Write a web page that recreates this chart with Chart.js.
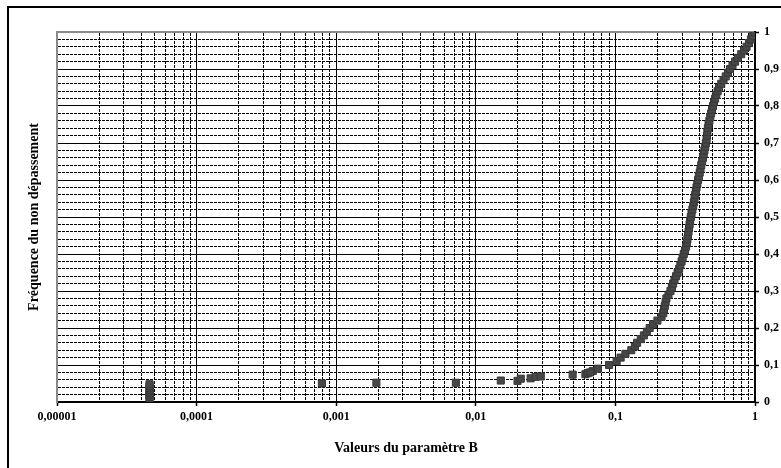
<!DOCTYPE html>
<html><head><meta charset="utf-8">
<script src="https://cdn.jsdelivr.net/npm/chart.js@4"></script>
<style>html,body{margin:0;padding:0;background:#fff}canvas{display:block}</style>
</head><body>
<canvas id="c" width="781" height="468" style="width:781px;height:468px"></canvas>
<script>
// ---- Data ----
// Values of parameter B (x, log scale)
const paramB = [
  0.000046,0.000046,0.000046,0.000046,0.000046,0.000046,0.000046,0.000046,0.000046,
  0.00079,0.00194,0.0072,0.0151,0.0199,0.0210,0.0247,0.0268,0.0292,0.0494,0.0610,0.0634,0.0689,
  0.066,0.075,0.090,0.102,0.109,0.118,0.130,0.138,0.143,0.152,
  0.160,0.168,0.176,0.186,0.200,0.214,0.220,0.223,0.226,0.229,
  0.232,0.240,0.248,0.254,0.259,0.265,0.272,0.279,0.286,0.292,
  0.298,0.303,0.309,0.315,0.321,0.325,0.328,0.331,0.334,0.337,
  0.340,0.343,0.347,0.351,0.356,0.361,0.365,0.369,0.373,0.377,
  0.381,0.386,0.391,0.396,0.402,0.407,0.412,0.418,0.424,0.429,
  0.434,0.440,0.445,0.450,0.453,0.456,0.460,0.465,0.471,0.478,
  0.485,0.492,0.500,0.508,0.518,0.528,0.540,0.553,0.573,0.595,
  0.617,0.640,0.663,0.690,0.720,0.755,0.797,0.835,0.870,0.905,
  0.935,0.965,0.995
];
// Non-exceedance frequency (y)
const freq = [
  0.008,0.013,0.018,0.023,0.028,0.033,0.038,0.043,0.048,
  0.050,0.052,0.052,0.058,0.057,0.063,0.064,0.068,0.069,0.074,0.075,0.078,0.084,
  0.08,0.09,0.10,0.11,0.12,0.13,0.14,0.15,0.16,0.17,
  0.18,0.19,0.20,0.21,0.22,0.23,0.24,0.25,0.26,0.27,
  0.28,0.29,0.30,0.31,0.32,0.33,0.34,0.35,0.36,0.37,
  0.38,0.39,0.40,0.41,0.42,0.43,0.44,0.45,0.46,0.47,
  0.48,0.49,0.50,0.51,0.52,0.53,0.54,0.55,0.56,0.57,
  0.58,0.59,0.60,0.61,0.62,0.63,0.64,0.65,0.66,0.67,
  0.68,0.69,0.70,0.71,0.72,0.73,0.74,0.75,0.76,0.77,
  0.78,0.79,0.80,0.81,0.82,0.83,0.84,0.85,0.86,0.87,
  0.88,0.89,0.90,0.91,0.92,0.93,0.94,0.95,0.96,0.97,
  0.98,0.99,1.00
];
// Axis ticks
const xDecades = [0.00001,0.0001,0.001,0.01,0.1,1];
const xTickLabels = ['0,00001','0,0001','0,001','0,01','0,1','1'];
const minorMultipliers = [2,3,4,5,6,7,8,9];
const xTitle = 'Valeurs du paramètre B';
const yTitle = 'Fréquence du non dépassement';

// ---- Chart ----
const points = paramB.map((b, i) => ({x: b, y: freq[i]}));
const xMinor = [];
xDecades.slice(0, -1).forEach(d => minorMultipliers.forEach(m => xMinor.push(d * m)));

const F = 'Liberation Serif, Times New Roman, serif';
const tickFont = {family: F, size: 12, weight: 'bold'};
const titleFont = {family: F, size: 14, weight: 'bold'};
const isMajorY = v => Math.abs(v * 10 - Math.round(v * 10)) < 1e-6;

const framePlugin = {
  id: 'frame',
  beforeDraw(chart) {
    const ctx = chart.ctx;
    ctx.save();
    ctx.fillStyle = '#fff';
    ctx.fillRect(0, 0, chart.width, chart.height);
    ctx.strokeStyle = '#000';
    ctx.lineWidth = 2;
    ctx.beginPath();
    ctx.moveTo(8, chart.height);
    ctx.lineTo(8, 7);
    ctx.lineTo(chart.width, 7);
    ctx.stroke();
    ctx.restore();
  }
};

new Chart(document.getElementById('c'), {
  type: 'scatter',
  data: {
    datasets: [{
      data: points,
      pointStyle: 'rect',
      pointRadius: 5,
      pointHoverRadius: 5,
      backgroundColor: '#474747',
      borderColor: '#383838',
      borderWidth: 1,
      showLine: false
    }]
  },
  options: {
    responsive: false,
    animation: false,
    devicePixelRatio: 1,
    layout: {padding: {top: 32, left: 0, right: 0, bottom: 0}},
    plugins: {legend: {display: false}, tooltip: {enabled: false}},
    scales: {
      x: {
        type: 'logarithmic', position: 'bottom', min: 0.00001, max: 1,
        afterBuildTicks: s => { s.ticks = xDecades.map(v => ({value: v, major: true})); },
        afterFit: s => { s.height = 66; },
        ticks: {autoSkip: false, maxRotation: 0, minRotation: 0, padding: 4, color: '#000', font: tickFont,
                callback: (v, i) => xTickLabels[i]},
        grid: {color: '#000', lineWidth: 1, tickLength: 4, tickColor: '#000', tickWidth: 1.5},
        border: {display: true, color: '#000', width: 2},
        title: {display: true, text: xTitle, color: '#000', font: titleFont, padding: {top: 0, bottom: 11}}
      },
      x2: {
        type: 'logarithmic', position: 'top', min: 0.00001, max: 1,
        afterBuildTicks: s => { s.ticks = xMinor.map(v => ({value: v})); },
        afterFit: s => { s.height = 0; },
        ticks: {display: false, autoSkip: false},
        grid: {color: '#000', lineWidth: 1, drawTicks: false},
        border: {display: true, color: '#8a8a8a', width: 2, dash: [3, 1]}
      },
      y: {
        type: 'linear', position: 'right', min: 0, max: 1,
        afterFit: s => { s.width = 26; },
        ticks: {stepSize: 0.1, padding: 5, color: '#000', font: tickFont,
                callback: v => (v === 0 ? '0' : v === 1 ? '1' : v.toFixed(1).replace('.', ','))},
        grid: {color: '#000', lineWidth: 1, tickLength: 4, tickColor: '#000', tickWidth: 1.5},
        border: {display: true, color: '#000', width: 2}
      },
      y2: {
        type: 'linear', position: 'left', min: 0, max: 1,
        afterFit: s => { s.width = 57; },
        ticks: {display: false, stepSize: 0.02},
        grid: {drawTicks: false, lineWidth: 1,
               color: c => (c.tick && isMajorY(c.tick.value)) ? 'rgba(0,0,0,0)' : '#000'},
        border: {display: true, color: '#8a8a8a', width: 2, dash: [3, 1]},
        title: {display: true, text: yTitle, color: '#000', font: titleFont, padding: {top: 26, bottom: 0}}
      }
    }
  },
  plugins: [framePlugin]
});
</script>
</body></html>
